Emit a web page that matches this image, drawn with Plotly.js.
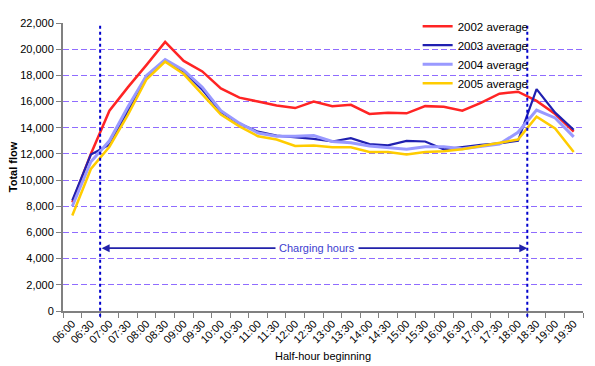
<!DOCTYPE html>
<html>
<head>
<meta charset="utf-8">
<script src="https://cdn.plot.ly/plotly-3.0.1.min.js"></script>
<style>html,body{margin:0;padding:0;background:#fff;}#chart{width:595px;height:366px;}</style>
</head>
<body>
<div id="chart"></div>
<script>
const times = ['06:00','06:30','07:00','07:30','08:00','08:30','09:00','09:30','10:00','10:30','11:00','11:30','12:00','12:30','13:00','13:30','14:00','14:30','15:00','15:30','16:00','16:30','17:00','17:30','18:00','18:30','19:00','19:30'];
const avg2002 = [8300,12000,15300,17100,18800,20550,19100,18300,17000,16300,16000,15700,15500,16000,15650,15750,15050,15150,15100,15650,15600,15300,15900,16600,16750,16050,15050,13700];
const avg2003 = [8450,11950,12700,15300,17900,19100,18300,16900,15200,14300,13700,13400,13300,13150,12950,13200,12750,12650,13000,12950,12350,12550,12700,12800,13000,16950,15150,13850];
const avg2004 = [8000,11400,13000,15600,18000,19200,18400,17100,15300,14350,13600,13350,13350,13400,12950,12850,12600,12450,12350,12550,12550,12400,12550,12750,13650,15350,14750,13300];
const avg2005 = [7300,10850,12550,15000,17700,19050,18100,16550,15000,14100,13350,13100,12600,12650,12500,12500,12150,12150,11950,12150,12200,12350,12600,12850,13100,14850,13950,12150];
const seriesNames = ['2002 average','2003 average','2004 average','2005 average'];
const chargeStart = 1.5, chargeEnd = 24.5, chargeLabelY = 4800;

const font = 'Arial, "Liberation Sans", sans-serif';
const traces = [
  {x: times, y: avg2002, name: seriesNames[0], mode: 'lines', line: {color: '#ff2424', width: 2.5}},
  {x: times, y: avg2003, name: seriesNames[1], mode: 'lines', line: {color: '#2020b0', width: 2.2}},
  {x: times, y: avg2004, name: seriesNames[2], mode: 'lines', line: {color: '#9999ff', width: 3}},
  {x: times, y: avg2005, name: seriesNames[3], mode: 'lines', line: {color: '#ffcc00', width: 2.5}}
];

const layout = {
  width: 595, height: 366,
  margin: {l: 63, r: 12, t: 18, b: 55},
  paper_bgcolor: '#ffffff', plot_bgcolor: '#ffffff',
  font: {family: font, size: 11, color: '#000'},
  showlegend: true,
  legend: {x: 0.682, y: 0.89, xanchor: 'left', yanchor: 'middle', bgcolor: 'rgba(0,0,0,0)', font: {family: font, size: 11.5}, itemwidth: 30, tracegroupgap: 0},
  xaxis: {
    type: 'category', range: [-0.5, 27.5], tickson: 'boundaries',
    ticks: 'outside', ticklen: 5, tickcolor: '#808080', tickwidth: 1,
    showline: true, linecolor: '#808080', linewidth: 2, showgrid: false, zeroline: false,
    tickangle: -45, tickfont: {family: font, size: 11},
    title: {text: 'Half-hour beginning', font: {family: font, size: 11}, standoff: 8}
  },
  yaxis: {
    range: [0, 22000], dtick: 2000, tickformat: ',d',
    ticks: 'outside', ticklen: 5, tickcolor: '#808080', tickwidth: 1,
    showline: true, linecolor: '#808080', linewidth: 2, zeroline: false,
    showgrid: true, gridcolor: '#8f6cff', gridwidth: 1, griddash: '6px,3px',
    tickfont: {family: font, size: 11},
    title: {text: '<b>Total flow</b>', font: {family: font, size: 11}, standoff: 0}
  },
  shapes: [
    {type: 'line', xref: 'x', yref: 'paper', x0: chargeStart, x1: chargeStart, y0: -0.02, y1: 1, line: {color: '#0000cc', width: 2, dash: 'dot'}},
    {type: 'line', xref: 'x', yref: 'paper', x0: chargeEnd, x1: chargeEnd, y0: -0.02, y1: 1, line: {color: '#0000cc', width: 2, dash: 'dot'}}
  ],
  annotations: [
    {x: chargeEnd, y: chargeLabelY, ax: chargeStart, ay: chargeLabelY, xref: 'x', yref: 'y', axref: 'x', ayref: 'y',
     text: '', showarrow: true, arrowside: 'end+start', arrowhead: 2, arrowsize: 1, arrowwidth: 1.6, arrowcolor: '#2222aa'},
    {x: 13.2, y: chargeLabelY, xref: 'x', yref: 'y', text: 'Charging hours', showarrow: false,
     bgcolor: '#ffffff', borderpad: 3, font: {family: font, size: 11, color: '#4040d0'}}
  ]
};

Plotly.newPlot('chart', traces, layout, {displayModeBar: false, staticPlot: true});
</script>
</body>
</html>
